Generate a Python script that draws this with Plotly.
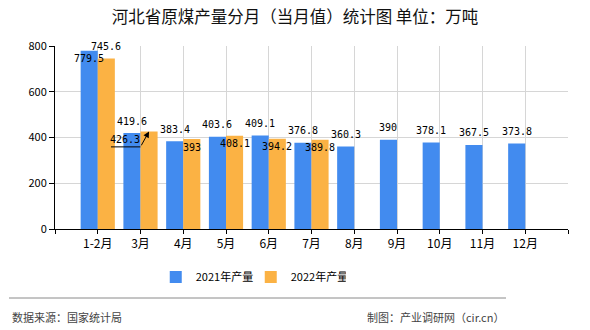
import plotly.graph_objects as go

# ---- data ----
categories = ["1-2月", "3月", "4月", "5月", "6月", "7月", "8月", "9月", "10月", "11月", "12月"]
prod_2021 = [779.5, 419.6, 383.4, 403.6, 409.1, 376.8, 360.3, 390, 378.1, 367.5, 373.8]
prod_2022 = [745.6, 426.3, 393, 408.1, 394.2, 389.8, None, None, None, None, None]
series_names = ["2021年产量", "2022年产量"]
title_text = "河北省原煤产量分月（当月值）统计图 单位：万吨"
source_text = "数据来源：国家统计局"
credit_text = "制图：产业调研网（cir.cn）"
y_ticks = [0, 200, 400, 600, 800]

# ---- style ----
W, H = 590, 330
ML, MR, MT, MB = 55, 22, 46, 101
PW, PH = W - ML - MR, H - MT - MB
BLUE = "#428bef"
ORANGE = "#fbb244"
CJK = "Noto Sans CJK SC"
MONO = "DejaVu Sans Mono"
BAR_W = 0.4

xs = list(range(len(categories)))

fig = go.Figure()
fig.add_trace(go.Bar(x=xs, y=prod_2021, name=series_names[0], marker_color=BLUE,
                     width=BAR_W, offset=-BAR_W, marker_line_width=0))
fig.add_trace(go.Bar(x=xs, y=prod_2022, name=series_names[1], marker_color=ORANGE,
                     width=BAR_W, offset=0, marker_line_width=0))

# ---- value labels ----
lab_font = dict(family=MONO, size=10, color="#000")
ABOVE, INSIDE = 12, -8
for i, v in enumerate(prod_2021):
    shift = INSIDE if i == 0 else ABOVE
    fig.add_annotation(x=i - BAR_W / 2, y=v, text=str(v), showarrow=False,
                       yshift=shift, font=lab_font, xanchor="center", yanchor="middle")
for i, v in enumerate(prod_2022):
    if v is None:
        continue
    if i == 1:
        # label displaced with a leader arrow
        fig.add_annotation(x=i + BAR_W / 2, y=v, text=str(v), showarrow=False,
                           xshift=-24, yshift=-8, font=lab_font,
                           xanchor="center", yanchor="middle")
        fig.add_annotation(x=i + BAR_W / 2, y=v, text="", showarrow=True,
                           ax=-8.6, ay=15.4, arrowhead=2, arrowsize=1.2,
                           arrowwidth=1, arrowcolor="#000", standoff=0)
        fig.add_annotation(x=i + BAR_W / 2, y=v, text="", showarrow=True,
                           xshift=-8.6, yshift=-15.4, ax=-31, ay=0,
                           arrowhead=0, arrowwidth=1, arrowcolor="#000", standoff=0)
        continue
    shift = ABOVE if i == 0 else INSIDE
    fig.add_annotation(x=i + BAR_W / 2, y=v, text=str(v), showarrow=False,
                       yshift=shift, font=lab_font, xanchor="center", yanchor="middle")

# ---- footer ----
def px_x(p):
    return (p - ML) / PW

def px_y(p):
    return (H - MB - p) / PH

fig.add_shape(type="line", xref="paper", yref="paper",
              x0=px_x(9), x1=px_x(506), y0=px_y(298), y1=px_y(298),
              line=dict(color="#8a8a8a", width=1))
fig.add_annotation(xref="paper", yref="paper", x=px_x(10), y=px_y(317),
                   text=source_text, showarrow=False, xanchor="left", yanchor="middle",
                   font=dict(family=CJK, size=11, color="#444"))
fig.add_annotation(xref="paper", yref="paper", x=px_x(506), y=px_y(317),
                   text=credit_text, showarrow=False, xanchor="right", yanchor="middle",
                   font=dict(family=CJK, size=11, color="#444"))

tickvals = [-1] + xs + [len(categories)]
ticktext = [""] + categories + [""]

fig.update_layout(
    width=W, height=H,
    margin=dict(l=ML, r=MR, t=MT, b=MB),
    paper_bgcolor="white", plot_bgcolor="white",
    barmode="overlay",
    title=dict(text=title_text, x=0.5, xref="container", xanchor="center",
               y=1 - 17 / H, yref="container", yanchor="middle",
               font=dict(family=CJK, size=16.5, color="#111")),
    showlegend=True,
    legend=dict(orientation="h", xref="container", yref="container",
                x=0.425, xanchor="center", y=1 - 277 / H, yanchor="middle",
                font=dict(family=CJK, size=11, color="#000"),
                itemwidth=30, entrywidth=50, entrywidthmode="pixels",
                traceorder="normal"),
    xaxis=dict(range=[-1, len(categories)], tickmode="array", tickvals=tickvals,
               ticktext=ticktext, showgrid=True, gridcolor="#d6d6d6", gridwidth=1,
               showline=True, linecolor="#000", linewidth=1,
               ticks="outside", ticklen=4, tickcolor="#000",
               tickfont=dict(family=CJK, size=12, color="#000"), zeroline=False),
    yaxis=dict(range=[0, 800], tickvals=y_ticks, showgrid=True, gridcolor="#d6d6d6",
               gridwidth=1, showline=True, linecolor="#000", linewidth=1,
               ticks="outside", ticklen=5, tickcolor="#000",
               tickfont=dict(family=CJK, size=11, color="#000"), zeroline=False),
)

fig.write_html("out.html")
